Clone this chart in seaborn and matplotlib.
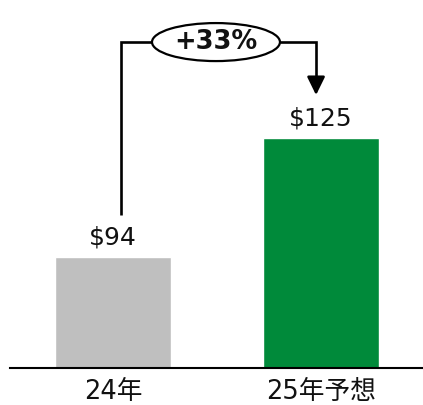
import matplotlib
matplotlib.use("Agg")
import matplotlib.pyplot as plt
from matplotlib.patches import Ellipse
import seaborn as sns

# Revenue figures (USD)
categories = ["24年", "25年予想"]
values = [94, 125]
value_labels = ["$94", "$125"]
bar_colors = ["#BFBFBF", "#008A3A"]
growth_label = "+33%"

sns.set_theme(style="white")
plt.rcParams["font.family"] = ["DejaVu Sans", "Noto Sans CJK JP"]

fig = plt.figure(figsize=(4.23, 4.05), dpi=100)
ax = fig.add_axes([10 / 423, 37 / 405, 413 / 423, 368 / 405])

sns.barplot(x=categories, y=values, hue=categories, palette=bar_colors,
            width=0.558, legend=False, saturation=1, ax=ax)

ax.set_ylim(65.1, 160.96)
ax.set_xlim(-0.495, 1.49)

for i, (v, lab) in enumerate(zip(values, value_labels)):
    ax.text(i, v + 2.0, lab, ha="center", va="bottom", fontsize=18, color="#111111")

# growth connector: up from the first bar, across through the badge, down to the second
lw = 1.9
y_top = 150.0
left_x, right_x = 0.038, 0.976
ell_cx, ell_w, ell_h = 0.495, 0.615, 9.9
ax.plot([left_x, left_x, ell_cx - ell_w / 2], [values[0] + 11, y_top, y_top],
        color="black", lw=lw, solid_capstyle="butt", solid_joinstyle="miter")
ax.plot([ell_cx + ell_w / 2, right_x, right_x], [y_top, y_top, values[1] + 14.0],
        color="black", lw=lw, solid_capstyle="butt", solid_joinstyle="miter")
ax.annotate("", xy=(right_x, values[1] + 11.2), xytext=(right_x, values[1] + 15.0),
            arrowprops=dict(arrowstyle="-|>,head_length=0.55,head_width=0.27",
                            mutation_scale=20, lw=lw, color="black",
                            shrinkA=0, shrinkB=0))
ax.add_patch(Ellipse((ell_cx, y_top), ell_w, ell_h, facecolor="white",
                     edgecolor="black", lw=1.6, zorder=5))
ax.text(ell_cx, y_top, growth_label, ha="center", va="center", fontsize=18.5,
        fontweight="bold", zorder=6, color="#111111")

for s in ["top", "right", "left"]:
    ax.spines[s].set_visible(False)
ax.spines["bottom"].set_color("black")
ax.spines["bottom"].set_linewidth(1.5)
ax.set_yticks([])
ax.tick_params(axis="x", length=0, pad=8, labelsize=18.5, labelcolor="#111111")
ax.set_xlabel("")
ax.set_ylabel("")

fig.savefig("out.png", dpi=100)
